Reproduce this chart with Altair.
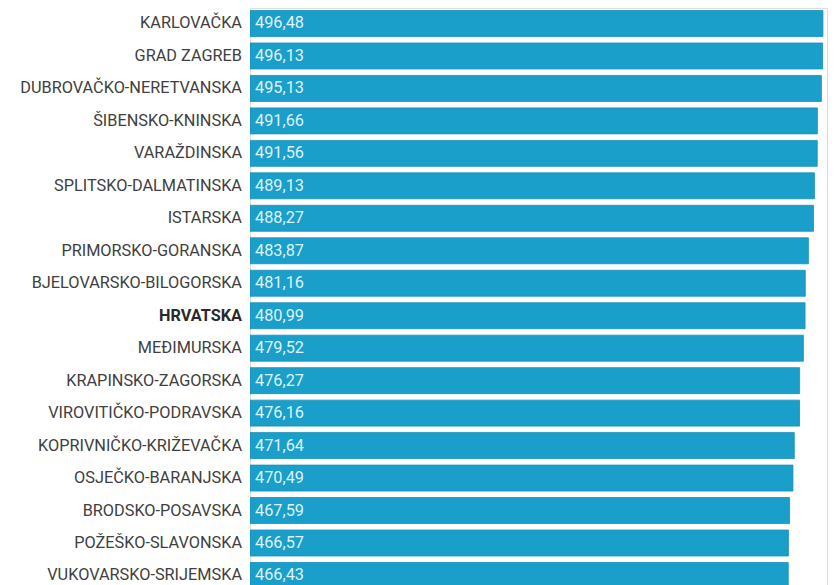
import altair as alt
import pandas as pd

names = ["", "KARLOVAČKA", "GRAD ZAGREB", "DUBROVAČKO-NERETVANSKA", "ŠIBENSKO-KNINSKA",
         "VARAŽDINSKA", "SPLITSKO-DALMATINSKA", "ISTARSKA", "PRIMORSKO-GORANSKA",
         "BJELOVARSKO-BILOGORSKA", "HRVATSKA", "MEĐIMURSKA", "KRAPINSKO-ZAGORSKA",
         "VIROVITIČKO-PODRAVSKA", "KOPRIVNIČKO-KRIŽEVAČKA", "OSJEČKO-BARANJSKA",
         "BRODSKO-POSAVSKA", "POŽEŠKO-SLAVONSKA", "VUKOVARSKO-SRIJEMSKA"]
values = [498.9, 496.48, 496.13, 495.13, 491.66, 491.56, 489.13, 488.27, 483.87,
          481.16, 480.99, 479.52, 476.27, 476.16, 471.64, 470.49, 467.59, 466.57, 466.43]
bold_name = "HRVATSKA"

df = pd.DataFrame({
    "name": names,
    "value": values,
    "idx": list(range(len(names))),
    "label": [("" if n == "" else f"{v:.2f}".replace(".", ",")) for n, v in zip(names, values)],
})

W, H = 577, 577
pitch = 32.47
a = 0.523
b = a + H / pitch

FS = 16.3
yscale = alt.Scale(domain=[a, b], reverse=True, nice=False, zero=False)
xscale = alt.Scale(domain=[0, 500], nice=False)
base = alt.Chart(df).transform_calculate(
    y0="datum.idx - 0.4", y1="datum.idx + 0.4"
)

bars = base.mark_bar(color="#1a9fcb", stroke="#168fb9", strokeWidth=0.8, clip=True).encode(
    x=alt.X("value:Q", scale=xscale, axis=None),
    x2=alt.datum(0),
    y=alt.Y("y0:Q", scale=yscale, axis=None),
    y2="y1:Q",
)

vals = base.transform_filter(alt.datum.label != "").mark_text(
    align="left", baseline="middle", font="Roboto", fontSize=FS,
    color="#dff3fa", clip=True).encode(
    x=alt.value(5),
    y=alt.Y("idx:Q", scale=yscale, axis=None),
    text="label:N",
)

names_normal = base.transform_filter(
    (alt.datum.name != bold_name) & (alt.datum.name != "")
).mark_text(
    align="right", baseline="middle", font="Roboto", fontSize=FS, color="#404040"
).encode(
    x=alt.value(-8),
    y=alt.Y("idx:Q", scale=yscale, axis=None),
    text="name:N",
)

names_bold = base.transform_filter(alt.datum.name == bold_name).mark_text(
    align="right", baseline="middle", font="Roboto", fontSize=FS, fontWeight="bold",
    color="#2a2a2a"
).encode(
    x=alt.value(-8),
    y=alt.Y("idx:Q", scale=yscale, axis=None),
    text="name:N",
)

chart = alt.layer(bars, vals, names_normal, names_bold).properties(
    width=W, height=H,
    autosize=alt.AutoSizeParams(type="none"),
    padding={"left": 242, "top": 0, "right": 5, "bottom": 0},
).configure_view(strokeWidth=0, stroke="transparent").configure(background="white")

chart.save("out.html", embed_options={"renderer": "svg", "actions": False})
